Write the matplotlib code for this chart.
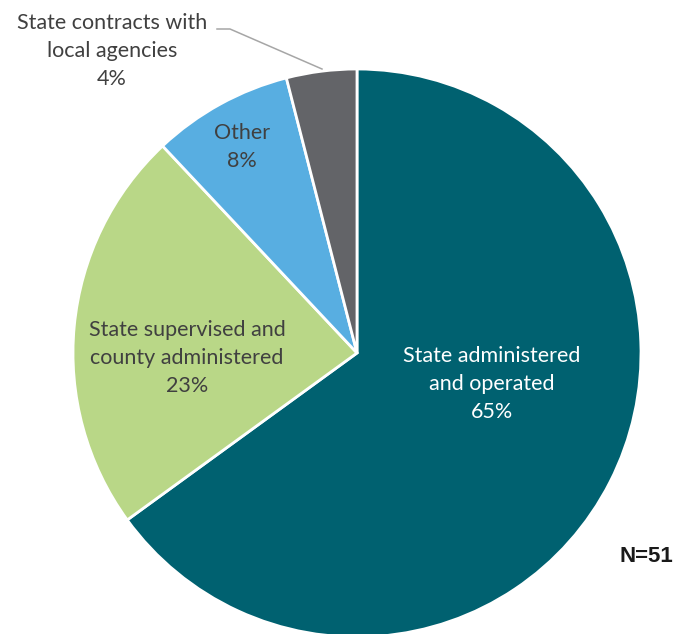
import matplotlib.pyplot as plt

plt.rcParams['font.family'] = ['Lato', 'DejaVu Sans']

# ------ data ------
categories = ['State administered\nand operated',
              'State supervised and\ncounty administered',
              'Other',
              'State contracts with\nlocal agencies']
shares = [65, 23, 8, 4]   # percent of states
n_states = 51
colors = ['#006170', '#B9D787', '#58AEE1', '#636468']
label_colors = ['white', '#404040', '#404040', '#404040']

# label centres in pixels from the top-left corner
label_pos = [(492, 384), (187, 358), (242, 147), (112, 51)]

W, H = 677, 634


def py(y):
    # pixel row -> data y (axes run bottom-up)
    return H - y


fig = plt.figure(figsize=(W / 100, H / 100), dpi=100)
ax = fig.add_axes([0, 0, 1, 1])

ax.pie(shares, colors=colors, startangle=90, counterclock=False,
       radius=284, center=(357, py(353)),
       wedgeprops=dict(edgecolor='white', linewidth=2))

for cat, s, col, (x, y) in zip(categories, shares, label_colors, label_pos):
    ax.text(x, py(y), f'{cat}\n{s}%', ha='center', va='center',
            fontsize=15.5, color=col, linespacing=1.5)

# leader line for the small slice
ax.plot([217, 230, 322], [py(29), py(29), py(69)], color='#A6A6A6', lw=1.1)

ax.text(673, py(557), f'N={n_states}', ha='right', va='center',
        fontsize=16, fontweight='bold', color='#1A1A1A',
        family='Liberation Sans')

ax.set_xlim(0, W)
ax.set_ylim(0, H)
ax.set_aspect('equal')
ax.axis('off')

fig.savefig('out.png', dpi=100)
